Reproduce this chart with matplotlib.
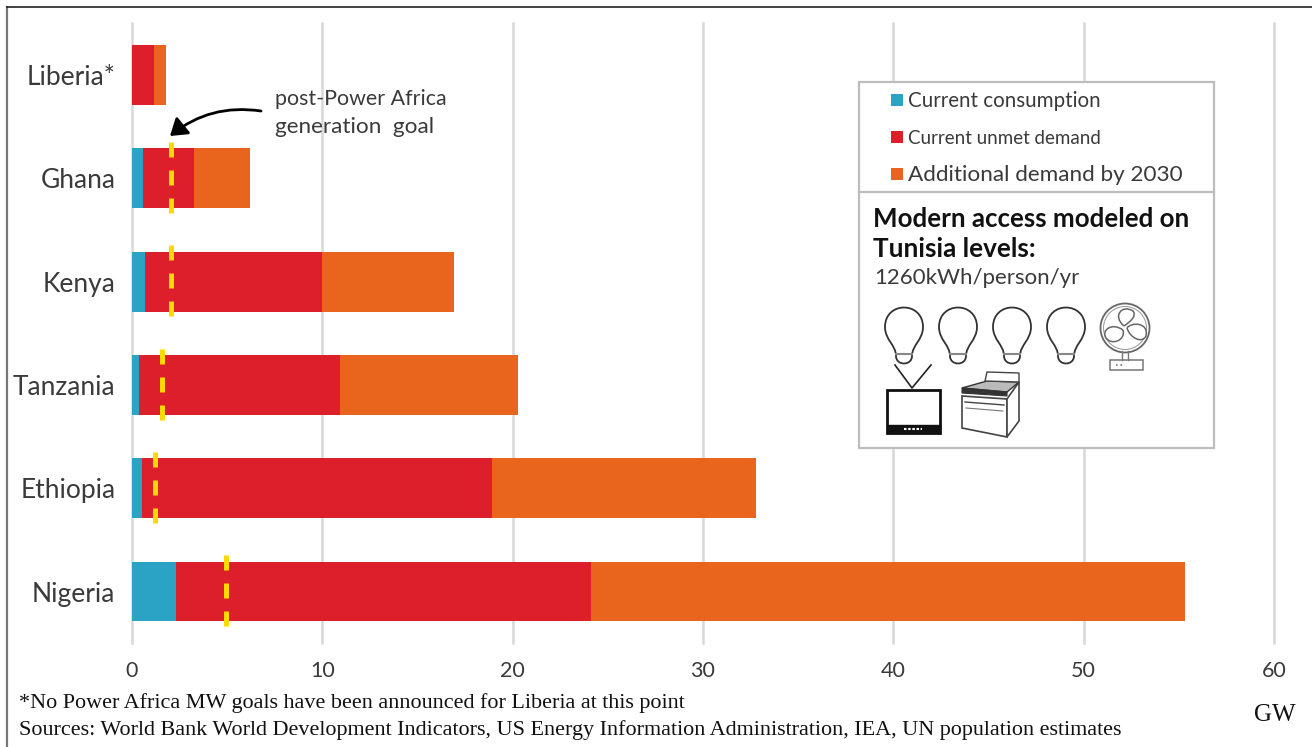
import matplotlib
matplotlib.use("Agg")
import matplotlib.pyplot as plt
from matplotlib.patches import Rectangle, Circle, Polygon, PathPatch, FancyArrowPatch
from matplotlib.path import Path

COUNTRIES = ["Liberia*", "Ghana", "Kenya", "Tanzania", "Ethiopia", "Nigeria"]
CONSUMPTION = [0.0, 0.6, 0.7, 0.35, 0.5, 2.3]
UNMET = [1.15, 2.65, 9.3, 10.6, 18.4, 21.8]
ADDITIONAL = [0.65, 2.95, 6.9, 9.35, 13.9, 31.2]
GOAL_COUNTRY = [1, 2, 3, 4, 5]
GOAL = [2.05, 2.05, 1.6, 1.2, 4.95]
XTICKS = [0, 10, 20, 30, 40, 50, 60]

BLUE = "#2ba3c4"
RED = "#dc1f2a"
ORANGE = "#e9641c"
YELLOW = "#ffd900"
GRID = "#d8d8d8"
TEXT = "#3a3a3a"
W, H = 1312, 747
SANS = "Lato"

fig = plt.figure(figsize=(W / 100, H / 100), dpi=100, facecolor="white")

# main chart, placed by pixel so the gridlines land where they do in the original
ax = fig.add_axes([132 / W, 1 - 643 / H, (1274 - 132) / W, (643 - 23) / H])
ax.set_xlim(0, 60)
ax.set_ylim(5.4985, -0.503)
left = [0.0] * len(COUNTRIES)
for vals, col in [(CONSUMPTION, BLUE), (UNMET, RED), (ADDITIONAL, ORANGE)]:
    ax.barh(range(len(COUNTRIES)), vals, left=left, height=0.58, color=col, zorder=2)
    left = [a + b for a, b in zip(left, vals)]
for i, g in zip(GOAL_COUNTRY, GOAL):
    ax.plot([g, g], [i - 0.35, i + 0.35], color=YELLOW, lw=3.6, ls=(0, (3, 2.6)), zorder=3)
ax.set_xticks(XTICKS)
ax.set_yticks(range(len(COUNTRIES)))
ax.set_yticklabels(COUNTRIES, fontsize=19, color=TEXT, family=SANS)
ax.set_xticklabels(XTICKS, fontsize=15.5, color=TEXT, family=SANS)
ax.tick_params(axis="y", length=0, pad=12)
ax.tick_params(axis="x", length=0, pad=13)
ax.grid(axis="x", color=GRID, lw=1.8, zorder=0, clip_on=False)
ax.set_axisbelow(True)
for s in ax.spines.values():
    s.set_visible(False)

# overlay in pixel coordinates for frame, legend box, notes and icons
ov = fig.add_axes([0, 0, 1, 1], facecolor="none", zorder=5)
ov.set_xlim(0, W)
ov.set_ylim(H, 0)
ov.axis("off")

ov.plot([7, 7], [7, H], color="#777777", lw=1.6)
ov.plot([7, W], [7, 7], color="#222222", lw=1.2)

ov.add_patch(Rectangle((859, 82), 355, 366, fc="white", ec="#bdbdbd", lw=1.6))
ov.plot([859, 1214], [192, 192], color="#bdbdbd", lw=1.6)

LEGEND = ["Current consumption", "Current unmet demand", "Additional demand by 2030"]
LEGEND_SIZE = [14.8, 13.5, 16.2]
for y, col, label, fs in zip([100, 137, 174], [BLUE, RED, ORANGE], LEGEND, LEGEND_SIZE):
    ov.add_patch(Rectangle((891, y - 6), 12, 12, fc=col, ec="none"))
    ov.text(908, y + 1, label, fontsize=fs, color=TEXT, family=SANS, va="center")
ov.text(873, 219, "Modern access modeled on", fontsize=18.6, weight="bold", color="#111111",
        family=SANS, va="center")
ov.text(873, 249, "Tunisia levels:", fontsize=18.8, weight="bold", color="#111111",
        family=SANS, va="center")
ov.text(874, 278, "1260kWh/person/yr", fontsize=16, color=TEXT, family=SANS, va="center")


def bulb(cx):
    verts = [(cx - 8, 356),
             (cx - 8, 345), (cx - 19, 340), (cx - 19, 327),
             (cx - 19, 301), (cx + 19, 301), (cx + 19, 327),
             (cx + 19, 340), (cx + 8, 345), (cx + 8, 356),
             (cx + 8, 366), (cx - 8, 366), (cx - 8, 356)]
    codes = [Path.MOVETO] + [Path.CURVE4] * 12
    ov.add_patch(PathPatch(Path(verts, codes), fc="white", ec="#333333", lw=1.3))
    ov.plot([cx - 8, cx + 8], [354, 354], color="#888888", lw=1.5)


for cx in [904, 958, 1012, 1066]:
    bulb(cx)


def blade(pts):
    codes = [Path.MOVETO] + [Path.CURVE4] * (len(pts) - 1)
    ov.add_patch(PathPatch(Path(pts, codes), fc="white", ec="#666666", lw=1.1))


# fan
ov.add_patch(Circle((1125, 328), 24.5, fc="white", ec="#666666", lw=1.3))
ov.add_patch(Circle((1125, 328), 21.5, fc="none", ec="#a0a0a0", lw=0.8))
blade([(1124, 326), (1112, 316), (1122, 304), (1133, 311), (1137, 316), (1130, 322), (1124, 326)])
blade([(1127, 328), (1131, 322), (1149, 322), (1146, 336), (1142, 344), (1130, 338), (1127, 328)])
blade([(1123, 330), (1126, 340), (1112, 346), (1106, 338), (1101, 330), (1112, 322), (1123, 330)])
ov.plot([1122, 1122], [351, 360], color="#777777", lw=1)
ov.plot([1128, 1128], [351, 360], color="#777777", lw=1)
ov.add_patch(Rectangle((1110, 360), 33, 10, fc="white", ec="#777777", lw=1.1))
ov.plot([1116, 1125], [365, 365], color="#777777", lw=1.2, ls=":")

# tv
ov.plot([895, 912, 931], [365, 388, 365], color="#222222", lw=1.2)
ov.add_patch(Rectangle((887, 390), 53, 43, fc="white", ec="#111111", lw=2))
ov.add_patch(Rectangle((887, 425), 53, 8, fc="#111111", ec="#111111", lw=1))
ov.plot([904, 922], [429, 429], color="white", lw=1.5, ls=(0, (1.2, 0.8)))

# stove
ov.add_patch(Polygon([(962, 396), (1007, 399), (1007, 437), (962, 428)], fc="white", ec="#444444", lw=1.2))
ov.add_patch(Polygon([(1007, 399), (1019, 382), (1019, 421), (1007, 437)], fc="white", ec="#444444", lw=1.2))
ov.add_patch(Polygon([(962, 388), (987, 381), (1019, 382), (1007, 392)], fc="#bbbbbb", ec="#333333", lw=1))
ov.add_patch(Polygon([(962, 388), (1007, 392), (1007, 396), (962, 393)], fc="#333333", ec="#333333", lw=0.8))
ov.add_patch(Polygon([(985, 381), (987, 372), (1019, 373), (1019, 382)], fc="white", ec="#444444", lw=1))
ov.plot([965, 1004], [402, 405], color="#444444", lw=1)
ov.plot([966, 1003], [408, 411], color="#777777", lw=0.8)

# annotation
ov.text(275, 99, "post-Power Africa", fontsize=15.4, color=TEXT, family=SANS, va="center")
ov.text(275, 127, "generation  goal", fontsize=16.2, color=TEXT, family=SANS, va="center")
ov.add_patch(FancyArrowPatch((261, 111), (170, 136), connectionstyle="arc3,rad=0.22",
                             arrowstyle="-|>,head_length=4.5,head_width=3", mutation_scale=2.2,
                             color="black", lw=2, shrinkA=0, shrinkB=0))

# footnotes
ov.text(19, 703, "*No Power Africa MW goals have been announced for Liberia at this point",
        fontsize=15.9, color="#111111", family="Liberation Serif", va="center")
ov.text(19, 730, "Sources: World Bank World Development Indicators, US Energy Information "
        "Administration, IEA, UN population estimates",
        fontsize=15.9, color="#111111", family="Liberation Serif", va="center")
ov.text(1254, 715, "GW", fontsize=18, color="#111111", family="Liberation Serif", va="center")

fig.savefig("out.png", dpi=100)
